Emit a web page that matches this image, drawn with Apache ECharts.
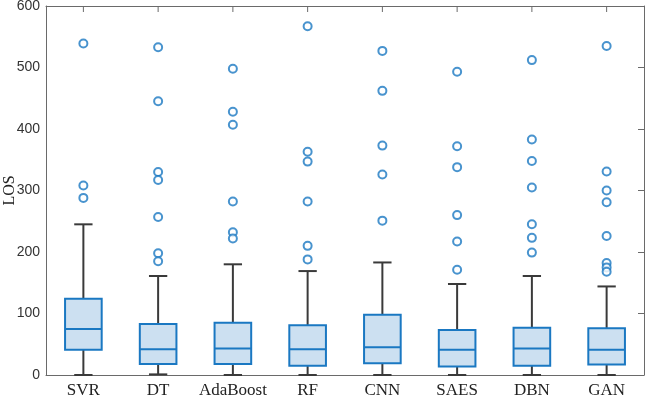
<!DOCTYPE html>
<html>
<head>
<meta charset="utf-8">
<script src="https://cdn.jsdelivr.net/npm/echarts@6/dist/echarts.min.js"></script>
<style>
html,body{margin:0;padding:0;background:#fff;}
#chart{width:646px;height:400px;}
</style>
</head>
<body>
<div id="chart"></div>
<script>
const categories = ['SVR', 'DT', 'AdaBoost', 'RF', 'CNN', 'SAES', 'DBN', 'GAN'];
const whiskerLow = [0, 1, 0, 0, 0, 0, 0, 0];
const q1Values = [41, 18, 18, 15, 19, 14, 15, 17];
const medianValues = [75, 42, 43, 42, 45, 41, 43, 41];
const q3Values = [124, 83, 85, 81, 98, 73, 77, 76];
const whiskerHigh = [245, 161, 180, 169, 183, 148, 161, 144];
const outliers = [
  [539, 308, 288],
  [533, 445, 330, 317, 257, 198, 185],
  [498, 428, 407, 282, 232, 222],
  [567, 363, 347, 282, 210, 188],
  [527, 462, 373, 326, 251],
  [493, 372, 338, 260, 217, 171],
  [512, 383, 348, 305, 245, 223, 199],
  [535, 331, 300, 281, 226, 182, 175, 168]
];
const yTicks = [0, 100, 200, 300, 400, 500, 600];

const BLUE = '#1a78c2';
const FILL = '#cce0f1';
const GRAY = '#3a3a3a';
const AXIS = '#6a6a6a';

const boxData = categories.map((c, i) => [i, whiskerLow[i], q1Values[i], medianValues[i], q3Values[i], whiskerHigh[i]]);
const outlierData = [];
outliers.forEach((arr, i) => arr.forEach(v => outlierData.push([i, v])));

function renderBox(params, api) {
  const x = api.value(0);
  const pMin = api.coord([x, api.value(1)]);
  const pQ1 = api.coord([x, api.value(2)]);
  const pMed = api.coord([x, api.value(3)]);
  const pQ3 = api.coord([x, api.value(4)]);
  const pMax = api.coord([x, api.value(5)]);
  const band = api.size([1, 0])[0];
  const bw = band * 0.49;
  const cw = bw * 0.5;
  const cx = pMed[0];
  const topY = params.coordSys.y;
  const wStyle = { stroke: GRAY, lineWidth: 2, fill: null };
  return {
    type: 'group',
    children: [
      { type: 'line', shape: { x1: cx, y1: topY, x2: cx, y2: topY + 6 }, style: { stroke: AXIS, lineWidth: 1 } },
      { type: 'line', shape: { x1: cx, y1: pQ3[1], x2: cx, y2: pMax[1] }, style: wStyle },
      { type: 'line', shape: { x1: cx, y1: pQ1[1], x2: cx, y2: pMin[1] }, style: wStyle },
      { type: 'line', shape: { x1: cx - cw / 2, y1: pMax[1], x2: cx + cw / 2, y2: pMax[1] }, style: wStyle },
      { type: 'line', shape: { x1: cx - cw / 2, y1: pMin[1], x2: cx + cw / 2, y2: pMin[1] }, style: wStyle },
      { type: 'rect', shape: { x: cx - bw / 2, y: pQ3[1], width: bw, height: pQ1[1] - pQ3[1] },
        style: { fill: FILL, stroke: BLUE, lineWidth: 2 } },
      { type: 'line', shape: { x1: cx - bw / 2, y1: pMed[1], x2: cx + bw / 2, y2: pMed[1] },
        style: { stroke: BLUE, lineWidth: 2 } }
    ]
  };
}

const chart = echarts.init(document.getElementById('chart'), null, { renderer: 'canvas' });
chart.setOption({
  animation: false,
  backgroundColor: '#fff',
  grid: { left: 46, right: 2, top: 6, bottom: 25, containLabel: false, outerBoundsMode: 'none' },
  xAxis: [
    {
      type: 'category', data: categories, position: 'bottom',
      axisLine: { onZero: false, lineStyle: { color: AXIS, width: 1 } },
      axisTick: { show: false },
      axisLabel: { interval: 0, fontFamily: 'Liberation Serif, Times New Roman, serif', fontSize: 17, color: '#222', margin: 7 }
    },
    {
      type: 'category', data: categories, position: 'top',
      axisLine: { show: true, onZero: false, lineStyle: { color: AXIS, width: 1 } },
      axisTick: { show: false },
      axisLabel: { show: false }
    }
  ],
  yAxis: [
    {
      type: 'value', min: 0, max: 600, interval: 100, position: 'left',
      name: 'LOS', nameLocation: 'middle', nameGap: 28, nameRotate: 90, nameMoveOverlap: false,
      nameTextStyle: { fontFamily: 'Liberation Serif, Times New Roman, serif', fontSize: 16, color: '#222' },
      axisLine: { show: true, onZero: false, lineStyle: { color: AXIS, width: 1 } },
      axisTick: { show: false },
      splitLine: { show: false },
      axisLabel: { fontFamily: 'Liberation Sans, Arial, sans-serif', fontSize: 14, color: '#333', margin: 6,
        formatter: v => yTicks.includes(v) ? String(v) : '' }
    },
    {
      type: 'value', min: 0, max: 600, interval: 100, position: 'right',
      axisLine: { show: true, onZero: false, lineStyle: { color: AXIS, width: 1 } },
      axisTick: { show: true, inside: true, length: 6, lineStyle: { color: AXIS } },
      splitLine: { show: false },
      axisLabel: { show: false }
    }
  ],
  series: [
    {
      type: 'custom', xAxisIndex: 0, yAxisIndex: 0,
      renderItem: renderBox,
      encode: { x: 0, y: [1, 2, 3, 4, 5] },
      data: boxData,
      clip: false,
      z: 2
    },
    {
      type: 'scatter', xAxisIndex: 1, yAxisIndex: 1,
      data: outlierData,
      symbol: 'emptyCircle', symbolSize: 8,
      itemStyle: { color: BLUE, borderColor: BLUE, borderWidth: 1.6 },
      z: 3
    }
  ]
});
</script>
</body>
</html>
